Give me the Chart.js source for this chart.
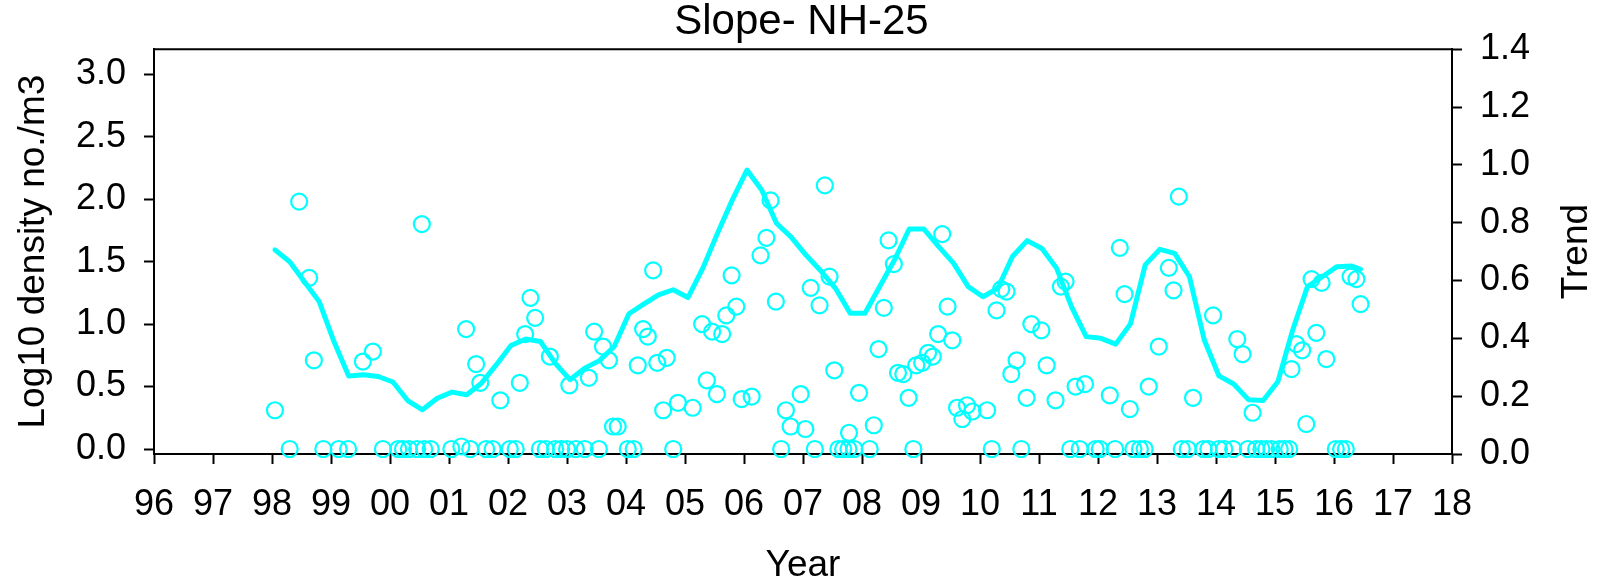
<!DOCTYPE html>
<html>
<head>
<meta charset="utf-8">
<title>Slope- NH-25</title>
<script src="https://cdn.jsdelivr.net/npm/chart.js"></script>
<style>
    html, body { margin: 0; padding: 0; background: #ffffff; }
    #slopeChart { display: block; }
</style>
</head>
<body>
<canvas id="slopeChart" width="1603" height="588"></canvas>
<script>
    // Sample dates (years since 1900) and log10 density
    const sampleYears = [
        98.05, 98.30, 98.46, 98.63, 98.71, 98.87, 99.13, 99.29, 99.54, 99.71, 99.88,
        100.14, 100.22, 100.32, 100.46, 100.54, 100.58, 100.69,
        101.04, 101.21, 101.29, 101.36, 101.46, 101.53, 101.63, 101.74, 101.87,
        102.03, 102.13, 102.20, 102.29, 102.38, 102.46, 102.54, 102.64, 102.71, 102.80, 102.90,
        103.00, 103.04, 103.15, 103.30, 103.37, 103.46, 103.54, 103.61, 103.71, 103.78, 103.86,
        104.03, 104.13, 104.20, 104.29, 104.37, 104.46, 104.53, 104.63, 104.69, 104.80, 104.88,
        105.13, 105.29, 105.37, 105.46, 105.54, 105.63, 105.70, 105.79, 105.87, 105.96,
        106.13, 106.28, 106.38, 106.45, 106.54, 106.63, 106.71, 106.79, 106.96,
        107.04, 107.13, 107.20, 107.28, 107.37, 107.45, 107.53, 107.60, 107.68, 107.77, 107.78, 107.87, 107.95,
        108.13, 108.20, 108.28, 108.37, 108.45, 108.54, 108.61, 108.70, 108.79, 108.87, 108.92,
        109.02, 109.12, 109.20, 109.29, 109.36, 109.45, 109.53, 109.61, 109.70, 109.78, 109.87,
        110.12, 110.20, 110.28, 110.36, 110.45, 110.53, 110.62, 110.70, 110.79, 110.87,
        111.04, 111.13, 111.28, 111.37, 111.45, 111.53, 111.62, 111.69, 111.78, 111.96,
        112.03, 112.20, 112.29, 112.37, 112.45, 112.54, 112.60, 112.71, 112.79, 112.86,
        113.03, 113.20, 113.28, 113.37, 113.42, 113.52, 113.61, 113.79, 113.87, 113.95,
        114.05, 114.14, 114.29, 114.36, 114.45, 114.54, 114.62, 114.68, 114.77, 114.85, 114.94,
        115.08, 115.16, 115.24, 115.28, 115.36, 115.46, 115.53, 115.62, 115.70, 115.79, 115.87,
        116.03, 116.12, 116.20, 116.28, 116.38, 116.45
    ];
    const sampleLog10 = [
        0.31, 0, 1.98, 1.37, 0.71, 0, 0, 0, 0.70, 0.78, 0,
        0, 0, 0, 0, 1.80, 0, 0,
        0, 0.02, 0.96, 0, 0.68, 0.53, 0, 0, 0.39,
        0, 0, 0.53, 0.92, 1.21, 1.05, 0, 0, 0.74, 0, 0,
        0, 0.51, 0, 0, 0.57, 0.94, 0, 0.82, 0.71, 0.18, 0.18,
        0, 0, 0.67, 0.96, 0.90, 1.43, 0.69, 0.31, 0.73, 0, 0.37,
        0.33, 1.00, 0.55, 0.94, 0.44, 0.92, 1.07, 1.39, 1.14, 0.40,
        0.42, 1.55, 1.69, 1.99, 1.18, 0, 0.31, 0.18, 0.44,
        0.16, 1.29, 0, 1.15, 2.11, 1.38, 0.63, 0, 0, 0, 0.13, 0, 0.45,
        0, 0.19, 0.80, 1.13, 1.67, 1.48, 0.61, 0.60, 0.41, 0, 0.67,
        0.69, 0.77, 0.74, 0.92, 1.72, 1.14, 0.87, 0.33, 0.24, 0.35, 0.30,
        0.31, 0, 1.11, 1.28, 1.26, 0.60, 0.71, 0, 0.41, 1.00,
        0.95, 0.67, 0.39, 1.30, 1.34, 0, 0.50, 0, 0.52, 0,
        0, 0.43, 0, 1.61, 1.24, 0.32, 0, 0, 0, 0.50,
        0.82, 1.45, 1.27, 2.02, 0, 0, 0.41, 0, 0, 1.07,
        0, 0, 0, 0.88, 0.76, 0, 0.29, 0, 0, 0, 0,
        0, 0, 0, 0.64, 0.84, 0.79, 0.20, 1.36, 0.93, 1.33, 0.72,
        0, 0, 0, 1.38, 1.36, 1.16
    ];

    // Trend line (right axis)
    const trendYears = [
        98.05, 98.30, 98.55, 98.80, 99.05, 99.30, 99.55, 99.80,
        100.05, 100.30, 100.55, 100.80, 101.05, 101.30, 101.55, 101.80,
        102.05, 102.30, 102.55, 102.80, 103.05, 103.30, 103.55, 103.80,
        104.05, 104.30, 104.55, 104.80, 105.05, 105.30, 105.55, 105.80,
        106.05, 106.30, 106.55, 106.80, 107.05, 107.30, 107.55, 107.80,
        108.05, 108.30, 108.55, 108.80, 109.05, 109.30, 109.55, 109.80,
        110.05, 110.30, 110.55, 110.80, 111.05, 111.30, 111.55, 111.80,
        112.05, 112.30, 112.55, 112.80, 113.05, 113.30, 113.55, 113.80,
        114.05, 114.30, 114.55, 114.80, 115.05, 115.30, 115.55, 115.80,
        116.05, 116.30, 116.45
    ];
    const trendValues = [
        0.706, 0.665, 0.596, 0.527, 0.389, 0.270, 0.274, 0.268,
        0.249, 0.185, 0.153, 0.193, 0.214, 0.205, 0.245, 0.308,
        0.375, 0.398, 0.389, 0.314, 0.257, 0.297, 0.323, 0.372,
        0.485, 0.518, 0.550, 0.568, 0.541, 0.642, 0.763, 0.878,
        0.982, 0.913, 0.798, 0.750, 0.688, 0.634, 0.573, 0.487,
        0.487, 0.579, 0.671, 0.778, 0.778, 0.717, 0.660, 0.579,
        0.544, 0.573, 0.683, 0.738, 0.711, 0.642, 0.510, 0.406,
        0.400, 0.380, 0.450, 0.654, 0.708, 0.694, 0.613, 0.395,
        0.270, 0.242, 0.188, 0.185, 0.251, 0.429, 0.579, 0.613,
        0.648, 0.650, 0.639
    ];

    const xTickLabels = ['96', '97', '98', '99', '00', '01', '02', '03', '04', '05', '06', '07',
                         '08', '09', '10', '11', '12', '13', '14', '15', '16', '17', '18'];
    const leftTicks = [0, 0.5, 1.0, 1.5, 2.0, 2.5, 3.0];
    const rightTicks = [0, 0.2, 0.4, 0.6, 0.8, 1.0, 1.2, 1.4];

    const CYAN = '#00ffff';
    const FONT = 'Liberation Sans, Arial, sans-serif';

    // top frame line and the right-hand axis title (reads bottom to top)
    const framePlugin = {
        id: 'frame',
        afterDraw(chart) {
            const ctx = chart.ctx;
            const area = chart.chartArea;
            ctx.save();
            ctx.strokeStyle = '#000000';
            ctx.lineWidth = 2;
            ctx.beginPath();
            ctx.moveTo(area.left, area.top);
            ctx.lineTo(area.right, area.top);
            ctx.stroke();

            ctx.translate(chart.width - 26, (area.top + area.bottom) / 2);
            ctx.rotate(-Math.PI / 2);
            ctx.fillStyle = '#000000';
            ctx.font = '37px ' + FONT;
            ctx.textAlign = 'center';
            ctx.textBaseline = 'middle';
            ctx.fillText('Trend', 0, 0);
            ctx.restore();
        }
    };

    function tickGrid() {
        return {
            display: true,
            drawOnChartArea: false,
            drawTicks: true,
            tickLength: 10,
            tickWidth: 2,
            tickColor: '#000000',
            color: '#000000'
        };
    }

    function createChart() {
        const ctx = document.getElementById('slopeChart').getContext('2d');

        const samplePoints = sampleYears.map((yr, i) => ({ x: yr, y: sampleLog10[i] }));
        const trendPoints = trendYears.map((yr, i) => ({ x: yr, y: trendValues[i] }));

        new Chart(ctx, {
            type: 'scatter',
            data: {
                datasets: [
                    {
                        label: 'Log10 density',
                        data: samplePoints,
                        yAxisID: 'y',
                        pointStyle: 'circle',
                        pointRadius: 8,
                        pointBorderWidth: 2.2,
                        borderColor: CYAN,
                        backgroundColor: 'rgba(0,0,0,0)',
                        clip: false
                    },
                    {
                        type: 'line',
                        label: 'Trend',
                        data: trendPoints,
                        yAxisID: 'y2',
                        borderColor: CYAN,
                        borderWidth: 5,
                        pointRadius: 0,
                        tension: 0,
                        fill: false,
                        borderJoinStyle: 'round',
                        borderCapStyle: 'round'
                    }
                ]
            },
            options: {
                responsive: false,
                devicePixelRatio: 1,
                animation: false,
                layout: { padding: 0 },
                plugins: {
                    legend: { display: false },
                    tooltip: { enabled: false },
                    title: {
                        display: true,
                        text: 'Slope- NH-25',
                        color: '#000000',
                        font: { family: FONT, size: 42, weight: 'normal', lineHeight: 1 },
                        padding: { top: 1, bottom: 6.2 }
                    }
                },
                scales: {
                    x: {
                        type: 'linear',
                        position: 'bottom',
                        min: 96,
                        max: 118,
                        grid: tickGrid(),
                        border: { display: true, color: '#000000', width: 2 },
                        afterBuildTicks: (scale) => {
                            scale.ticks = xTickLabels.map((lab, i) => ({ value: 96 + i }));
                        },
                        ticks: {
                            color: '#000000',
                            padding: 19,
                            maxRotation: 0,
                            autoSkip: false,
                            font: { family: FONT, size: 36 },
                            callback: (value, index) => xTickLabels[index]
                        },
                        title: {
                            display: true,
                            text: 'Year',
                            color: '#000000',
                            font: { family: FONT, size: 37 },
                            padding: { top: 0, bottom: 0 }
                        },
                        afterFit: (scale) => { scale.height = 134; }
                    },
                    y: {
                        type: 'linear',
                        position: 'left',
                        min: -0.04,
                        max: 3.2,
                        grid: tickGrid(),
                        border: { display: true, color: '#000000', width: 2 },
                        afterBuildTicks: (scale) => {
                            scale.ticks = leftTicks.map(v => ({ value: v }));
                        },
                        ticks: {
                            color: '#000000',
                            padding: 18,
                            font: { family: FONT, size: 36 },
                            callback: (value) => Number(value).toFixed(1)
                        },
                        title: {
                            display: true,
                            text: 'Log10 density no./m3',
                            color: '#000000',
                            font: { family: FONT, size: 37 },
                            padding: { top: 12, bottom: 0 }
                        },
                        afterFit: (scale) => { scale.width = 154; }
                    },
                    y2: {
                        type: 'linear',
                        position: 'right',
                        min: 0,
                        max: 1.4,
                        grid: tickGrid(),
                        border: { display: true, color: '#000000', width: 2 },
                        afterBuildTicks: (scale) => {
                            scale.ticks = rightTicks.map(v => ({ value: v }));
                        },
                        ticks: {
                            color: '#000000',
                            padding: 18,
                            font: { family: FONT, size: 36 },
                            callback: (value) => Number(value).toFixed(1)
                        },
                        afterFit: (scale) => { scale.width = 151; }
                    }
                }
            },
            plugins: [framePlugin]
        });
    }

    document.addEventListener('DOMContentLoaded', createChart);
</script>
</body>
</html>
